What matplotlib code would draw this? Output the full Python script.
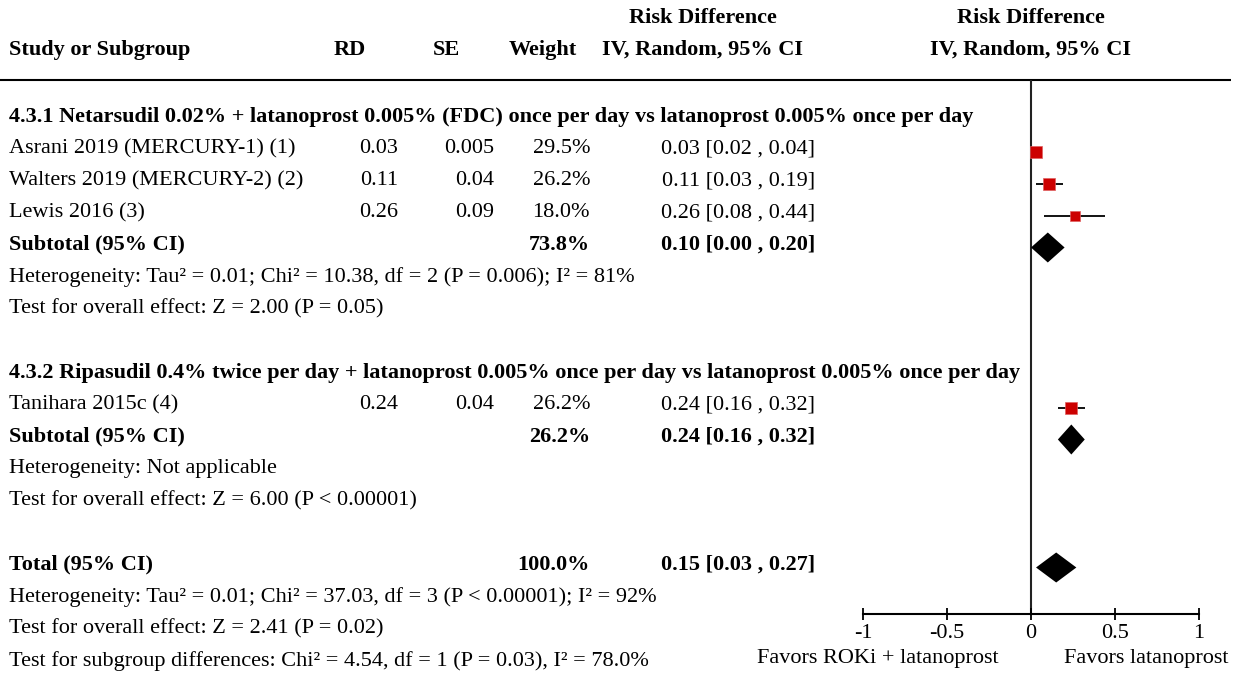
import matplotlib
matplotlib.use("Agg")
import matplotlib.pyplot as plt

# ---- data ----
group1_title = "4.3.1 Netarsudil 0.02% + latanoprost 0.005% (FDC) once per day vs latanoprost 0.005% once per day"
group1_studies = ["Asrani 2019 (MERCURY-1) (1)", "Walters 2019 (MERCURY-2) (2)", "Lewis 2016 (3)"]
group1_rd = [0.03, 0.11, 0.26]
group1_se = [0.005, 0.04, 0.09]
group1_weight = [29.5, 26.2, 18.0]
group1_lo = [0.02, 0.03, 0.08]
group1_hi = [0.04, 0.19, 0.44]
group1_sub = (0.10, 0.00, 0.20)
group1_sub_weight = 73.8
group1_het = "Heterogeneity: Tau² = 0.01; Chi² = 10.38, df = 2 (P = 0.006); I² = 81%"
group1_test = "Test for overall effect: Z = 2.00 (P = 0.05)"

group2_title = "4.3.2 Ripasudil 0.4% twice per day + latanoprost 0.005% once per day vs latanoprost 0.005% once per day"
group2_studies = ["Tanihara 2015c (4)"]
group2_rd = [0.24]
group2_se = [0.04]
group2_weight = [26.2]
group2_lo = [0.16]
group2_hi = [0.32]
group2_sub = (0.24, 0.16, 0.32)
group2_sub_weight = 26.2
group2_het = "Heterogeneity: Not applicable"
group2_test = "Test for overall effect: Z = 6.00 (P < 0.00001)"

total = (0.15, 0.03, 0.27)
total_weight = 100.0
total_het = "Heterogeneity: Tau² = 0.01; Chi² = 37.03, df = 3 (P < 0.00001); I² = 92%"
total_test = "Test for overall effect: Z = 2.41 (P = 0.02)"
subgroup_test = "Test for subgroup differences: Chi² = 4.54, df = 1 (P = 0.03), I² = 78.0%"

axis_ticks = [-1, -0.5, 0, 0.5, 1]
axis_ticklabels = ["-1", "-0.5", "0", "0.5", "1"]
favors_left = "Favors ROKi + latanoprost"
favors_right = "Favors latanoprost"

# ---- layout ----
W, H = 1236, 673
FS = 16
plt.rcParams['font.family'] = ['Liberation Serif', 'DejaVu Serif']
fig = plt.figure(figsize=(W / 100, H / 100), dpi=100)

ax = fig.add_axes([0, 0, 1, 1])
ax.set_xlim(0, W)
ax.set_ylim(H, 0)
ax.axis("off")

ROW0, STEP = 114.5, 32.0
TXT_OFF = 2.3      # text bbox centre sits below the cap centre
MARK_OFF = 5.0     # marks sit slightly below the text line

X_NAME, X_RD, X_SE, X_W, X_CI = 9, 398, 494, 590, 815


def row_y(i):
    return ROW0 + STEP * i


def txt(x, y, s, bold=False, ha="left"):
    ax.text(x, y + TXT_OFF, s, ha=ha, va="center", fontsize=FS,
            fontweight="bold" if bold else "normal", color="black")


# header
hb = dict(fontsize=FS, fontweight="bold", va="center")
ax.text(X_NAME, 50, "Study or Subgroup", ha="left", **hb)
ax.text(350, 50, "RD", ha="center", **hb)
ax.text(446, 50, "SE", ha="center", **hb)
ax.text(543, 50, "Weight", ha="center", **hb)
ax.text(703, 18, "Risk Difference", ha="center", **hb)
ax.text(703, 50, "IV, Random, 95% CI", ha="center", **hb)
ax.text(1031, 18, "Risk Difference", ha="center", **hb)
ax.text(1031, 50, "IV, Random, 95% CI", ha="center", **hb)
ax.plot([0, 1231], [80, 80], color="black", lw=1.5, solid_capstyle="butt")

# forest axes: bottom spine is the RD scale, data y == pixel y
y_top, y_bot = 80, 614
fx = fig.add_axes([863 / W, (H - y_bot) / H, 336 / W, (y_bot - y_top) / H])
fx.set_xlim(-1, 1)
fx.set_ylim(y_bot, y_top)
fx.patch.set_alpha(0)
for s in ("left", "right", "top"):
    fx.spines[s].set_visible(False)
fx.spines["bottom"].set_linewidth(1.5)
fx.set_yticks([])
fx.set_xticks(axis_ticks)
fx.set_xticklabels(axis_ticklabels, fontsize=FS)
fx.tick_params(axis="x", direction="inout", length=9, width=1.3, pad=3)
fx.axvline(0, color="#222222", lw=1.5, zorder=1)

RED = "#cc0000"


def study_rows(start, names, rd, se, wt, lo, hi):
    for k, name in enumerate(names):
        y = row_y(start + k)
        txt(X_NAME, y, name)
        txt(X_RD, y, f"{rd[k]:.2f}", ha="right")
        txt(X_SE, y, f"{se[k]:g}", ha="right")
        txt(X_W, y, f"{wt[k]:.1f}%", ha="right")
        txt(X_CI, y, f"{rd[k]:.2f} [{lo[k]:.2f} , {hi[k]:.2f}]", ha="right")
        ym = y + MARK_OFF
        fx.plot([lo[k], hi[k]], [ym, ym], color="black", lw=1.3, zorder=2,
                clip_on=False, solid_capstyle="butt")
        side_px = 2.2 * wt[k] ** 0.5
        fx.plot([rd[k]], [ym], marker="s", markersize=side_px * 0.72,
                color=RED, markeredgecolor="#e06060", markeredgewidth=0.5,
                zorder=3, clip_on=False)


def diamond(y, est, lo, hi):
    ym = y + MARK_OFF
    fx.fill([lo, est, hi, est], [ym, ym - 15, ym, ym + 15], color="black",
            lw=0, zorder=3, clip_on=False)


def summary_row(i, label, weight, est, lo, hi):
    y = row_y(i)
    txt(X_NAME, y, label, bold=True)
    txt(X_W, y, f"{weight:.1f}%", bold=True, ha="right")
    txt(X_CI, y, f"{est:.2f} [{lo:.2f} , {hi:.2f}]", bold=True, ha="right")
    diamond(y, est, lo, hi)


# group 1
txt(X_NAME, row_y(0), group1_title, bold=True)
study_rows(1, group1_studies, group1_rd, group1_se, group1_weight, group1_lo, group1_hi)
summary_row(4, "Subtotal (95% CI)", group1_sub_weight, *group1_sub)
txt(X_NAME, row_y(5), group1_het)
txt(X_NAME, row_y(6), group1_test)

# group 2
txt(X_NAME, row_y(8), group2_title, bold=True)
study_rows(9, group2_studies, group2_rd, group2_se, group2_weight, group2_lo, group2_hi)
summary_row(10, "Subtotal (95% CI)", group2_sub_weight, *group2_sub)
txt(X_NAME, row_y(11), group2_het)
txt(X_NAME, row_y(12), group2_test)

# overall
summary_row(14, "Total (95% CI)", total_weight, *total)
txt(X_NAME, row_y(15), total_het)
txt(X_NAME, row_y(16), total_test)
txt(X_NAME, row_y(17), subgroup_test)

ax.text(878, 658, favors_left, ha="center", va="center", fontsize=FS)
ax.text(1146, 658, favors_right, ha="center", va="center", fontsize=FS)

fig.savefig("out.png", dpi=100)
